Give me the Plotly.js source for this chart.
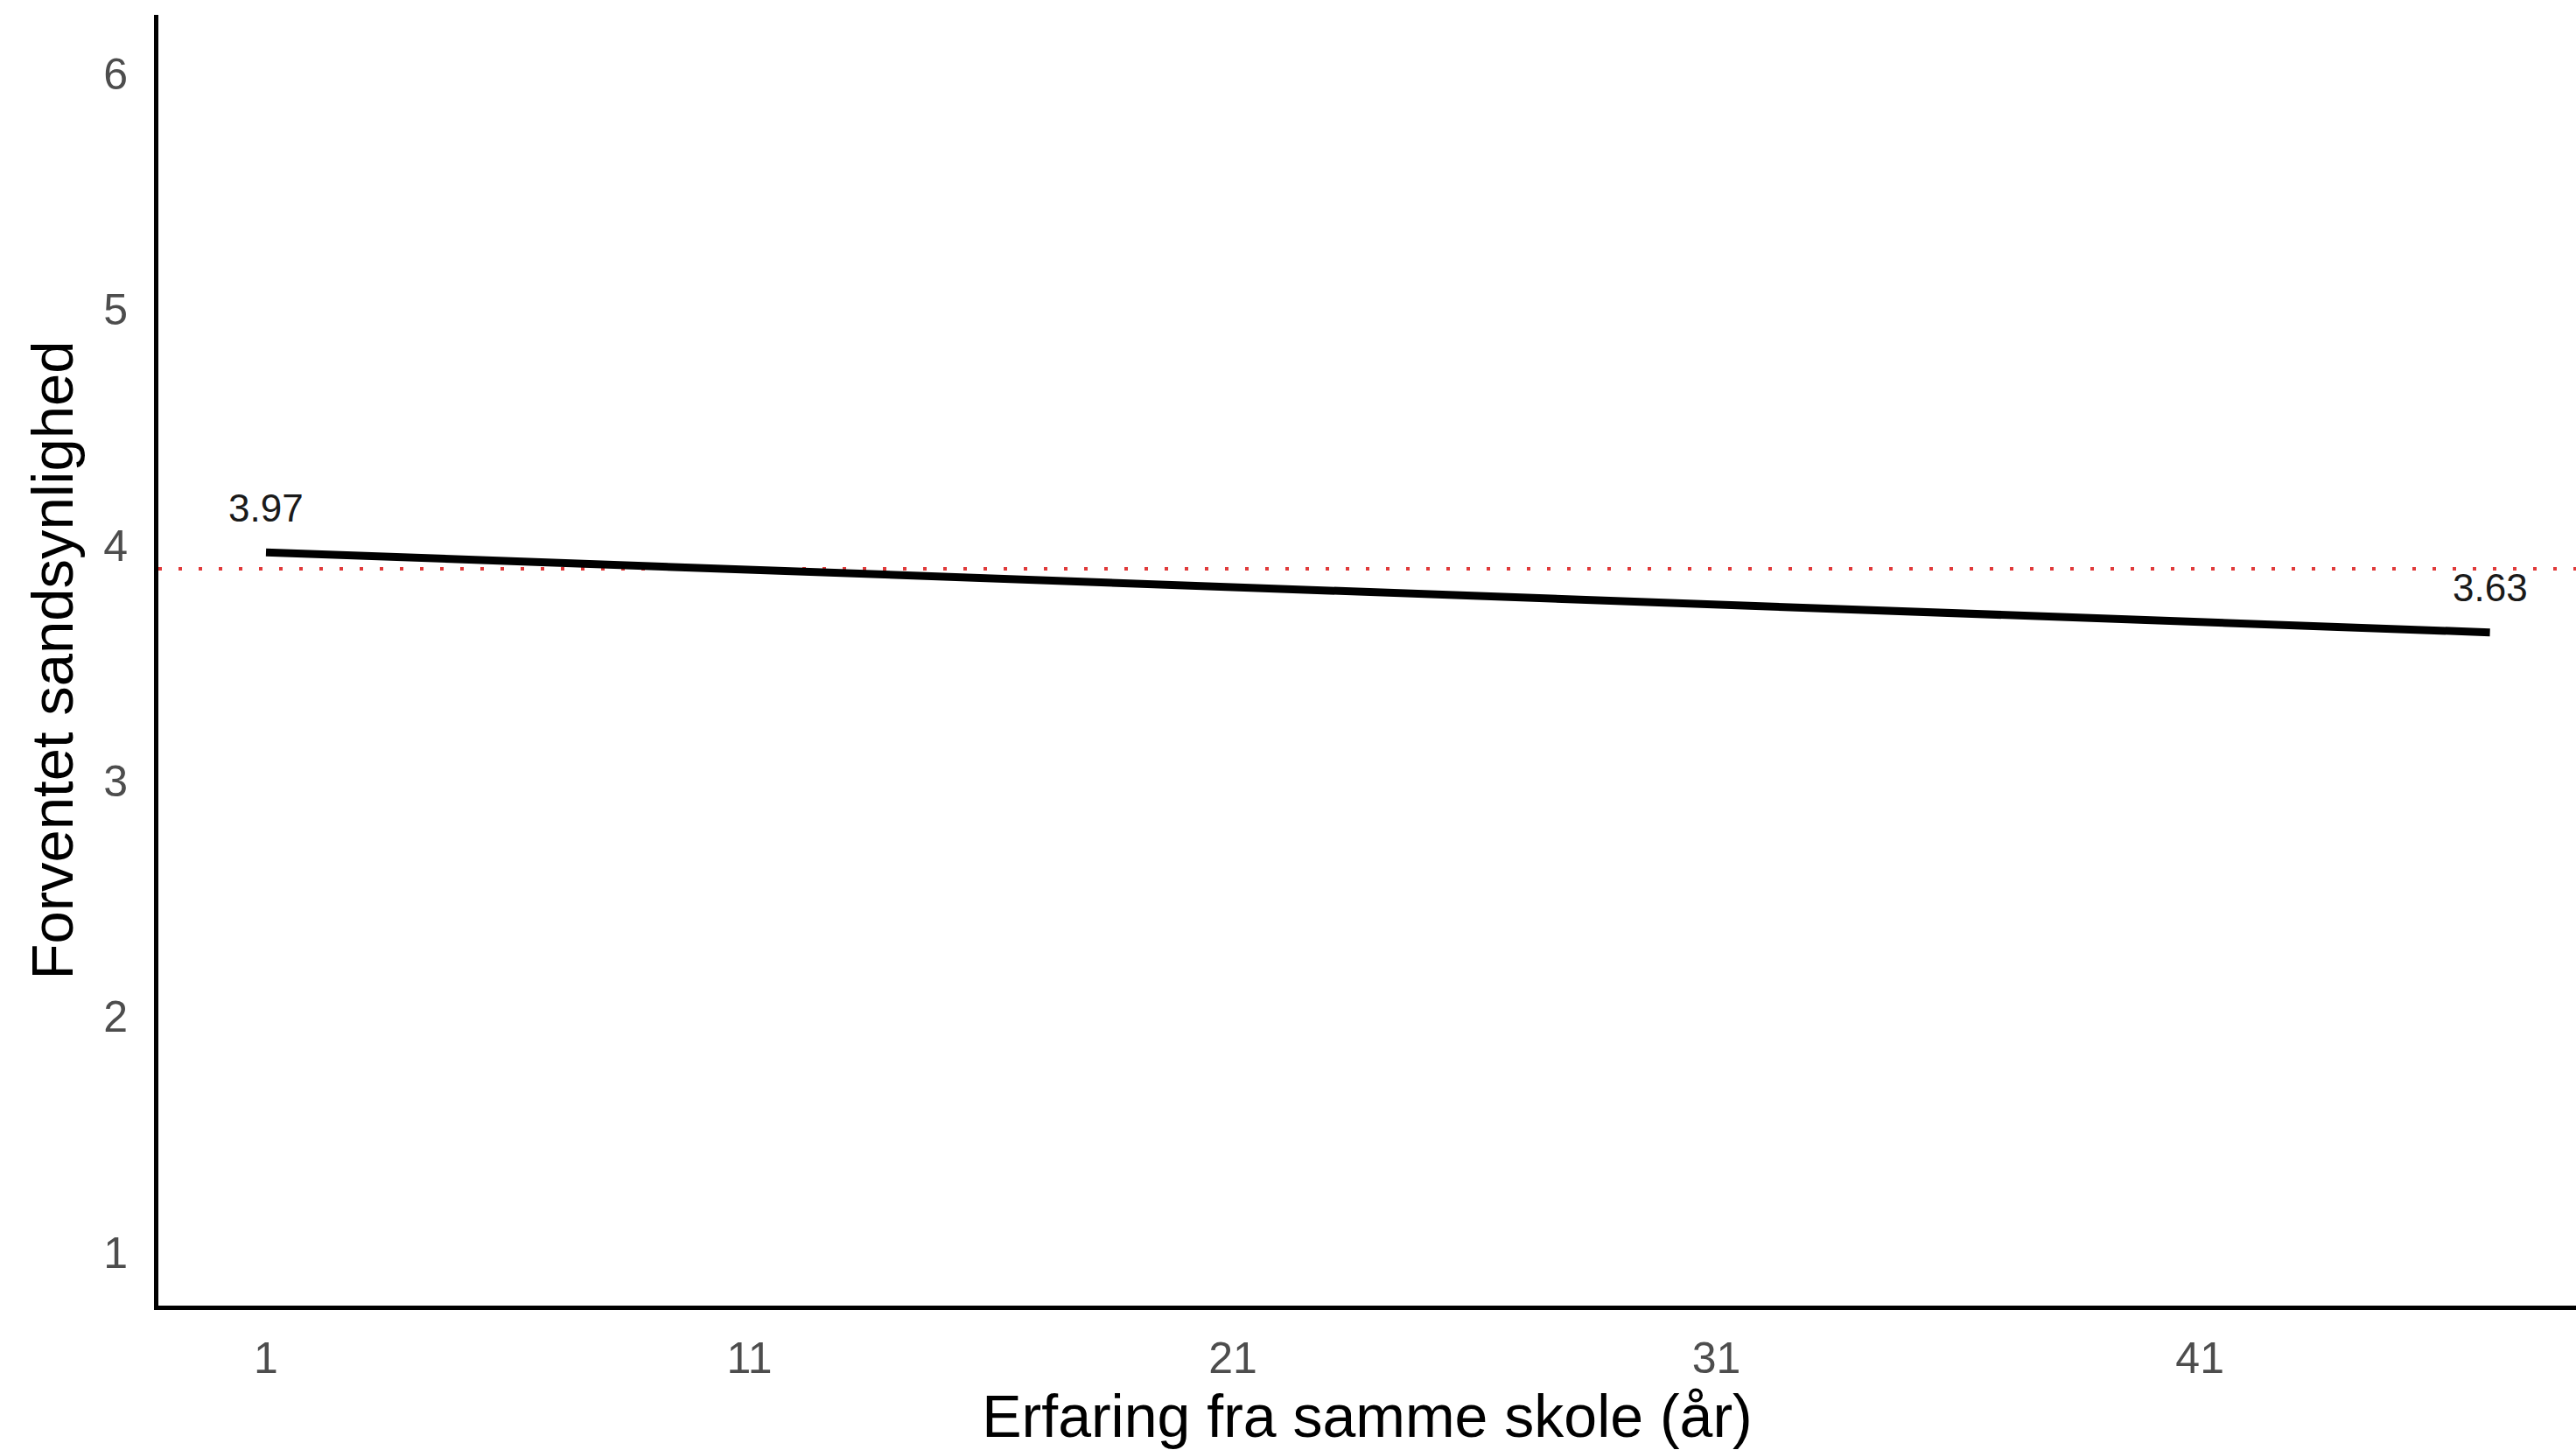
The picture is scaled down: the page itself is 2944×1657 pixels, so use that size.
<!DOCTYPE html>
<html>
<head>
<meta charset="utf-8">
<script src="https://cdn.plot.ly/plotly-3.0.1.min.js"></script>
<style>html,body{margin:0;padding:0;background:#fff;}#chart{width:2944px;height:1657px;}</style>
</head>
<body>
<div id="chart"></div>
<script>
// Data
const experienceYears = [1, 47];
const predictedValues = [3.97, 3.63];
const referenceValue = 3.90;
const xTickVals = [1, 11, 21, 31, 41];
const yTickVals = [1, 2, 3, 4, 5, 6];
const xTitle = "Erfaring fra samme skole (år)";
const yTitle = "Forventet sandsynlighed";

const font = "Liberation Sans, Arial, Helvetica, sans-serif";

const traces = [{
  x: experienceYears,
  y: predictedValues,
  type: "scatter",
  mode: "lines",
  line: {color: "#000000", width: 9},
  hoverinfo: "skip",
  showlegend: false
}];

const annotations = experienceYears.map((xv, i) => ({
  x: xv, y: predictedValues[i], xref: "x", yref: "y",
  text: predictedValues[i].toFixed(2),
  showarrow: false,
  yshift: 51,
  xanchor: "center", yanchor: "middle",
  font: {family: font, size: 44, color: "#1a1a1a"}
}));

const layout = {
  width: 2944, height: 1657,
  paper_bgcolor: "#ffffff", plot_bgcolor: "#ffffff",
  margin: {l: 181, r: 0, t: 17, b: 165},
  showlegend: false,
  xaxis: {
    range: [-1.226, 48.78],
    tickmode: "array", tickvals: xTickVals,
    ticks: "", showgrid: false, zeroline: false,
    showline: true, linecolor: "#000000", linewidth: 5,
    tickfont: {family: font, size: 50, color: "#4d4d4d"},
    ticklabelstandoff: 12,
    title: {text: xTitle, font: {family: font, size: 68, color: "#000000"}, standoff: 6}
  },
  yaxis: {
    range: [0.774, 6.25],
    tickmode: "array", tickvals: yTickVals,
    ticks: "", showgrid: false, zeroline: false,
    showline: true, linecolor: "#000000", linewidth: 5,
    tickfont: {family: font, size: 50, color: "#4d4d4d"},
    ticklabelstandoff: 20,
    title: {text: yTitle, font: {family: font, size: 67, color: "#000000"}, standoff: 14}
  },
  shapes: [{
    type: "line", xref: "paper", x0: 0, x1: 1,
    yref: "y", y0: referenceValue, y1: referenceValue,
    line: {color: "#e03a3a", width: 4, dash: "4px,19px"},
    layer: "below"
  }],
  annotations: annotations
};

Plotly.newPlot("chart", traces, layout, {displayModeBar: false, staticPlot: true});
</script>
</body>
</html>
